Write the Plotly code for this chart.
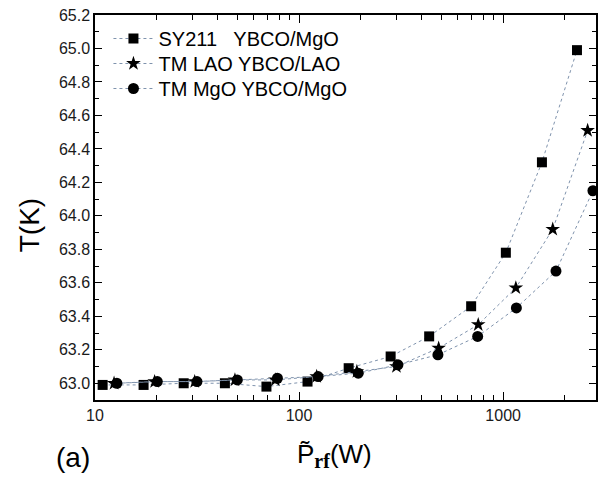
import plotly.graph_objects as go

# --- data ---
sy_x = [10.9, 17.3, 27.2, 43.3, 69.2, 110, 175, 281, 434, 697, 1031, 1549, 2300]
sy_y = [62.99, 62.99, 63.00, 63.00, 62.98, 63.01, 63.09, 63.16, 63.28, 63.46, 63.78, 64.32, 64.99]

lao_x = [12.4, 19.6, 30.8, 48.5, 76.5, 122, 192, 300, 483, 755, 1154, 1750, 2594]
lao_y = [63.00, 63.01, 63.01, 63.02, 63.02, 63.04, 63.07, 63.10, 63.21, 63.35, 63.57, 63.92, 64.51]

mgo_x = [12.8, 20.2, 31.6, 49.8, 78.3, 124, 195, 305, 479, 750, 1161, 1815, 2754]
mgo_y = [63.00, 63.01, 63.01, 63.02, 63.03, 63.04, 63.06, 63.11, 63.17, 63.28, 63.45, 63.67, 64.15]

names = ["SY211   YBCO/MgO", "TM LAO YBCO/LAO", "TM MgO YBCO/MgO"]

x_tick_vals = [10, 100, 1000]
x_tick_text = ["10", "100", "1000"]
x_minor_vals = [20, 30, 40, 50, 60, 70, 80, 90,
                200, 300, 400, 500, 600, 700, 800, 900, 2000]

line_color = "#7f93ad"
font_fam = "Liberation Sans, Arial, sans-serif"

W, H = 598, 477
ML, MR, MT, MB = 95, 0, 15, 77
PW, PH = W - ML - MR, H - MT - MB


def px_x(px):
    return (px - ML) / PW


def px_y(py):
    return (H - MB - py) / PH


fig = go.Figure()
legend_ids = ["legend", "legend2", "legend3"]
for xs, ys, nm, sym, sz, lg in [
    (sy_x, sy_y, names[0], "square", 10, legend_ids[0]),
    (lao_x, lao_y, names[1], "star", 11, legend_ids[1]),
    (mgo_x, mgo_y, names[2], "circle", 11, legend_ids[2]),
]:
    fig.add_trace(go.Scatter(
        x=xs, y=ys, name=nm, mode="lines+markers", legend=lg,
        line=dict(color=line_color, width=1, dash="dot"),
        marker=dict(symbol=sym, size=sz, color="black", line=dict(width=0)),
    ))

axis_common = dict(
    showline=True, linecolor="black", linewidth=1.5, mirror="ticks",
    ticks="inside", tickcolor="black", tickwidth=1.2,
    showgrid=False, zeroline=False,
    tickfont=dict(family=font_fam, size=16, color="#1a1a1a"),
)


def legend_box(top_px):
    return dict(
        x=px_x(108.5), y=px_y(top_px), xanchor="left", yanchor="top",
        bgcolor="rgba(0,0,0,0)", borderwidth=0,
        font=dict(family=font_fam, size=20, color="black"),
        itemwidth=40,
    )


fig.update_layout(
    width=W, height=H,
    margin=dict(l=ML, r=MR, t=MT, b=MB),
    paper_bgcolor="white", plot_bgcolor="white",
    showlegend=True,
    legend=legend_box(19),
    legend2=legend_box(44),
    legend3=legend_box(69),
    xaxis=dict(
        type="log", range=[1, 3.455],
        tickvals=x_tick_vals, ticktext=x_tick_text, ticklen=8,
        minor=dict(ticks="inside", ticklen=5, tickcolor="black", tickwidth=1.2,
                   tickvals=x_minor_vals),
        **axis_common,
    ),
    yaxis=dict(
        range=[62.9, 65.2], dtick=0.2, tick0=63.0, tickformat=".1f", ticklen=7,
        minor=dict(ticks="inside", ticklen=4, dtick=0.1, tickcolor="black", tickwidth=1.2),
        **axis_common,
    ),
)

fig.add_annotation(
    text="T(K)", xref="paper", yref="paper",
    x=px_x(30), y=px_y(225), xanchor="center", yanchor="middle", textangle=-90,
    showarrow=False, font=dict(family=font_fam, size=28, color="black"),
)
fig.add_annotation(
    text="P\u0303<sub><span style=\"font-family:'Liberation Serif',serif;font-weight:bold;font-size:20px\">rf</span></sub>(W)",
    xref="paper", yref="paper",
    x=px_x(335), y=px_y(455), xanchor="center", yanchor="middle",
    showarrow=False, font=dict(family=font_fam, size=26, color="black"),
)
fig.add_annotation(
    text="(a)", xref="paper", yref="paper",
    x=px_x(73), y=px_y(457), xanchor="center", yanchor="middle",
    showarrow=False, font=dict(family=font_fam, size=28, color="black"),
)

fig.write_html("out.html", config={"displayModeBar": False},
               post_script="document.body.style.margin='0px';")
